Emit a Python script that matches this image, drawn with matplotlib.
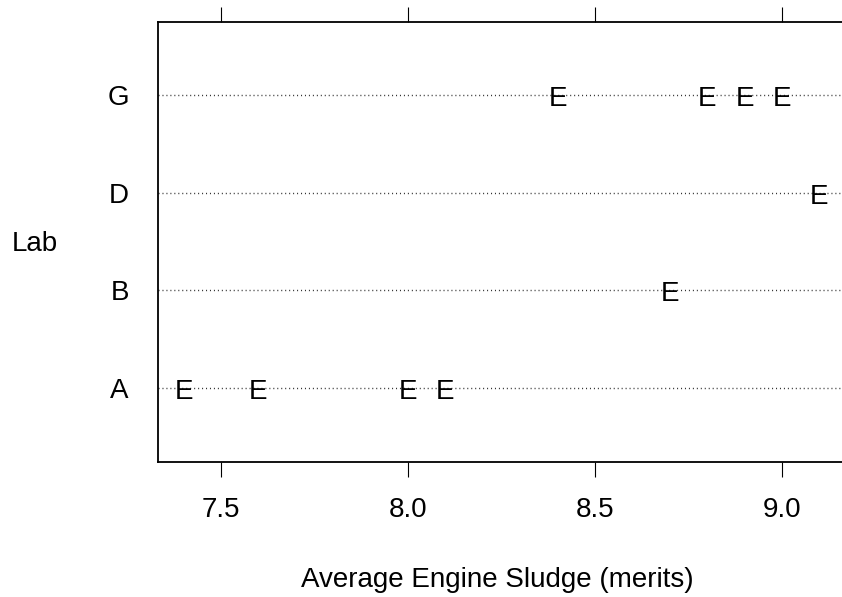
import matplotlib
matplotlib.use('Agg')
import matplotlib.pyplot as plt
import matplotlib.transforms as mtransforms

plt.rcParams['font.family'] = ['Liberation Sans', 'DejaVu Sans']

# sludge ratings per lab
labs = ['A', 'B', 'D', 'G']
lab_values = {
    'A': [7.4, 7.6, 8.0, 8.1],
    'B': [8.7],
    'D': [9.1],
    'G': [8.4, 8.8, 8.9, 9.0],
}
x_ticks = [7.5, 8.0, 8.5, 9.0]
x_tick_labels = ['7.5', '8.0', '8.5', '9.0']

W, H = 842, 597
FS = 20
fig = plt.figure(figsize=(W / 100, H / 100), dpi=100)

# panel box, right side runs off the figure
x_min, x_max = 7.3316, 9.2
px_per_unit = 374.0
left, top, bottom = 158, 22, 462
width = (x_max - x_min) * px_per_unit
ax = fig.add_axes([left / W, 1 - bottom / H, width / W, (bottom - top) / H])
ax.set_xlim(x_min, x_max)
ax.set_ylim(0.2424, 4.747)

for sp in ax.spines.values():
    sp.set_linewidth(1.3)

rows = range(1, len(labs) + 1)
for y in rows:
    ax.axhline(y, color='#333333', linewidth=1.0, linestyle=(0, (0.75, 2.1)), zorder=1)

marker_tf = mtransforms.offset_copy(ax.transData, fig=fig, x=0, y=-4, units='dots')
for y, lab in zip(rows, labs):
    for v in lab_values[lab]:
        ax.text(v, y, 'E', transform=marker_tf, ha='center', va='center',
                fontsize=FS, color='black', zorder=3)

ax.set_yticks(list(rows))
ax.set_yticklabels(labs, fontsize=FS)
ax.tick_params(axis='y', length=0, pad=21)

ax.set_xticks(x_ticks)
ax.set_xticklabels(x_tick_labels, fontsize=FS)
ax.tick_params(axis='x', which='both', top=True, bottom=True, labeltop=False,
               direction='out', length=10.8, width=0.8, pad=14.5)

fig.text(497 / W, 1 - 580 / H, 'Average Engine Sludge (merits)', ha='center', va='center', fontsize=FS)
fig.text(34.5 / W, 1 - 244 / H, 'Lab', ha='center', va='center', fontsize=FS)

fig.savefig('out.png', dpi=100)
